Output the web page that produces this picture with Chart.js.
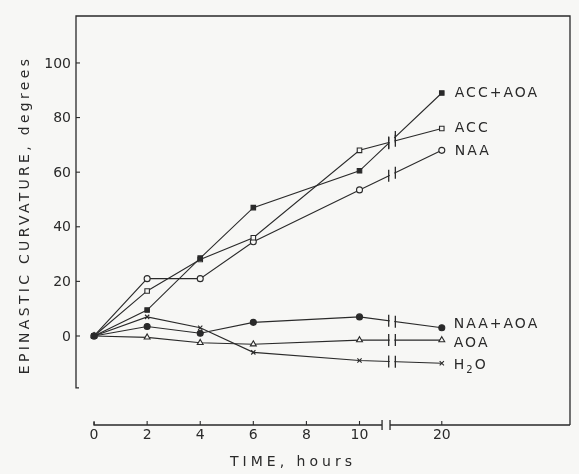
<!DOCTYPE html>
<html>
<head>
<meta charset="utf-8">
<script src="https://cdn.jsdelivr.net/npm/chart.js@4/dist/chart.umd.min.js"></script>
<style>
  body { margin: 0; background: #f7f7f5; }
  canvas { display: block; }
</style>
</head>
<body>
<canvas id="myChart" width="579" height="474"></canvas>
<script>
// time points (hours) and epinastic curvature (degrees)
const hours = [0, 2, 4, 6, 10, 20];
const accAoa = [0, 9.5, 28.5, 47, 60.5, 89];
const acc = [0, 16.5, 28, 36, 68, 76];
const naa = [0, 21, 21, 34.5, 53.5, 68];
const naaAoa = [0, 3.5, 1, 5, 7, 3];
const aoa = [0, -0.5, -2.5, -3, -1.5, -1.5];
const h2o = [0, 7, 3, -6, -9, -10];

const xTickHours = [0, 2, 4, 6, 8, 10, 20];
const yTickValues = [0, 20, 40, 60, 80, 100];

// the time axis is broken after 10 h, the 10-20 h stretch is squeezed
function axisPos(t) {
    return t <= 10 ? t : 10 + (t - 10) * 0.31;
}

const ink = '#2a2a2a';
const paper = '#f7f7f5';
const font = '"DejaVu Sans", sans-serif';

function series(label, values, style, filled, radius) {
    return {
        label: label,
        data: hours.map((h, i) => ({ x: axisPos(h), y: values[i] })),
        borderColor: ink,
        borderWidth: 1.1,
        pointStyle: style,
        pointRadius: radius,
        pointBorderWidth: 1.1,
        pointBorderColor: ink,
        pointBackgroundColor: filled ? ink : paper,
        tension: 0
    };
}

const datasets = [
    series('ACC+AOA', accAoa, 'rect', true, 3.2),
    series('ACC', acc, 'rect', false, 3.2),
    series('NAA', naa, 'circle', false, 3),
    series('NAA+AOA', naaAoa, 'circle', true, 3),
    series('AOA', aoa, 'triangle', false, 3.4),
    series('H2O', h2o, 'crossRot', false, 3)
];

// label nudges next to the last point of each line
const labelShift = { 'ACC+AOA': [13, 0], 'ACC': [13, 0], 'NAA': [13, 1], 'NAA+AOA': [12, -3], 'AOA': [12, 3], 'H2O': [12, 2] };

const drawFrame = {
    id: 'drawFrame',
    beforeDraw(chart) {
        const ctx = chart.ctx;
        ctx.save();
        ctx.fillStyle = paper;
        ctx.fillRect(0, 0, chart.width, chart.height);
        ctx.restore();
    },
    beforeDatasetsDraw(chart) {
        const { ctx, chartArea: a, scales: { x, y } } = chart;
        ctx.save();
        ctx.strokeStyle = ink;
        ctx.lineWidth = 1.3;

        // y axis plus top and right side of the box
        const yEnd = y.getPixelForValue(-19);
        ctx.beginPath();
        ctx.moveTo(a.left + 3, yEnd);
        ctx.lineTo(a.left, yEnd);
        ctx.lineTo(a.left, a.top);
        ctx.lineTo(a.right, a.top);
        ctx.lineTo(a.right, a.bottom);
        ctx.stroke();

        // x axis with its break
        const x0 = x.getPixelForValue(0);
        const b1 = x.getPixelForValue(10.85);
        const b2 = x.getPixelForValue(11.15);
        ctx.beginPath();
        ctx.moveTo(x0, a.bottom - 3);
        ctx.lineTo(x0, a.bottom);
        ctx.lineTo(b1, a.bottom);
        ctx.moveTo(b2, a.bottom);
        ctx.lineTo(a.right, a.bottom);
        ctx.moveTo(b1, a.bottom - 5);
        ctx.lineTo(b1, a.bottom + 5);
        ctx.moveTo(b2, a.bottom - 5);
        ctx.lineTo(b2, a.bottom + 5);
        ctx.stroke();

        // ticks and tick labels
        ctx.fillStyle = ink;
        ctx.font = '14px ' + font;
        ctx.lineWidth = 1.1;
        ctx.textAlign = 'center';
        ctx.textBaseline = 'top';
        xTickHours.forEach(h => {
            const px = x.getPixelForValue(axisPos(h));
            ctx.beginPath();
            ctx.moveTo(px, a.bottom);
            ctx.lineTo(px, a.bottom - 4);
            ctx.stroke();
            ctx.fillText(String(h), px, a.bottom + 3);
        });
        ctx.textAlign = 'right';
        ctx.textBaseline = 'middle';
        yTickValues.forEach(v => {
            const py = y.getPixelForValue(v);
            ctx.beginPath();
            ctx.moveTo(a.left, py);
            ctx.lineTo(a.left + 4, py);
            ctx.stroke();
            ctx.fillText(String(v), a.left - 5, py + 1);
        });

        // axis titles, letters spaced out like the original
        ctx.textAlign = 'center';
        ctx.letterSpacing = '4px';
        ctx.fillText('TIME, hours', 293, 462);
        ctx.translate(25, 215);
        ctx.rotate(-Math.PI / 2);
        ctx.letterSpacing = '3.3px';
        ctx.fillText('EPINASTIC CURVATURE, degrees', 0, 0);
        ctx.restore();
    },
    afterDatasetsDraw(chart) {
        const { ctx, scales: { x } } = chart;
        const c1 = x.getPixelForValue(11.1);
        const c2 = x.getPixelForValue(11.35);
        ctx.save();
        chart.data.datasets.forEach((ds, i) => {
            const pts = chart.getDatasetMeta(i).data;
            const p = pts[pts.length - 2];
            const q = pts[pts.length - 1];
            const yAt = px => p.y + (q.y - p.y) * (px - p.x) / (q.x - p.x);
            // gap and double bar where the line crosses the time break
            ctx.strokeStyle = paper;
            ctx.lineWidth = 3;
            ctx.beginPath();
            ctx.moveTo(c1 + 1, yAt(c1 + 1));
            ctx.lineTo(c2 - 1, yAt(c2 - 1));
            ctx.stroke();
            ctx.strokeStyle = ink;
            ctx.lineWidth = 1.3;
            ctx.beginPath();
            ctx.moveTo(c1, yAt(c1) - 6);
            ctx.lineTo(c1, yAt(c1) + 6);
            ctx.moveTo(c2, yAt(c2) - 6);
            ctx.lineTo(c2, yAt(c2) + 6);
            ctx.stroke();

            // name at the end of the line
            const [dx, dy] = labelShift[ds.label];
            ctx.fillStyle = ink;
            ctx.font = '14px ' + font;
            ctx.textAlign = 'left';
            ctx.textBaseline = 'middle';
            ctx.letterSpacing = '2px';
            const tx = q.x + dx;
            const ty = q.y + dy;
            if (ds.label === 'H2O') {
                ctx.fillText('H', tx, ty);
                const w = ctx.measureText('H').width;
                ctx.font = '10px ' + font;
                ctx.fillText('2', tx + w, ty + 5);
                const w2 = ctx.measureText('2').width;
                ctx.font = '14px ' + font;
                ctx.fillText('O', tx + w + w2, ty);
            } else {
                ctx.fillText(ds.label, tx, ty);
            }
        });
        ctx.restore();
    }
};

let myChart = new Chart(document.getElementById('myChart').getContext('2d'), {
    type: 'line',
    data: { datasets: datasets },
    options: {
        responsive: false,
        animation: false,
        layout: { padding: { left: 76, top: 16, right: 9, bottom: 49 } },
        plugins: { legend: { display: false }, tooltip: { enabled: false } },
        scales: {
            x: { type: 'linear', min: -0.68, max: 17.93, display: false },
            y: { type: 'linear', min: -32.6, max: 117.2, display: false }
        }
    },
    plugins: [drawFrame]
});
</script>
</body>
</html>
